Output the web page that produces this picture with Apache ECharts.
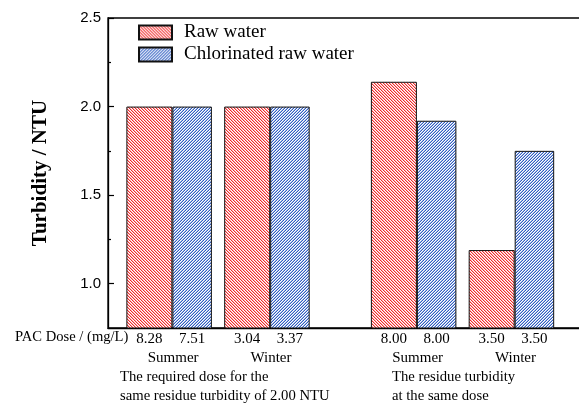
<!DOCTYPE html>
<html>
<head>
<meta charset="utf-8">
<script src="https://cdn.jsdelivr.net/npm/echarts@6/dist/echarts.min.js"></script>
<style>
html,body{margin:0;padding:0;background:#fff;}
#chart{width:579px;height:403px;}
</style>
</head>
<body>
<div id="chart"></div>
<script>
// ---- data ----
var seasons = ['Summer', 'Winter', 'Summer', 'Winter'];
var rawWater = [2.00, 2.00, 2.14, 1.19];
var chlorinatedWater = [2.00, 2.00, 1.92, 1.75];
var rawDose = ['8.28', '3.04', '8.00', '3.50'];
var chlorinatedDose = ['7.51', '3.37', '8.00', '3.50'];
var yTickLabels = [1.0, 1.5, 2.0, 2.5];
var yMinorTicks = [1.25, 1.75, 2.25];
var groupNotes = [
  ['The required dose for the', 'same residue turbidity of 2.00 NTU'],
  ['The residue turbidity', 'at the same dose']
];
var doseTitle = 'PAC Dose / (mg/L)';
var seriesNames = ['Raw water', 'Chlorinated raw water'];
var yName = 'Turbidity / NTU';

// ---- layout helpers (slot positions on the category band) ----
var slotCount = 20;
var groupSlots = [2, 6, 12, 16];
var slotLabels = [], rawSlots = [], chlSlots = [], rawDoseSlots = [], chlDoseSlots = [];
for (var i = 0; i < slotCount; i++) {
  slotLabels.push(''); rawSlots.push(null); chlSlots.push(null);
  rawDoseSlots.push(''); chlDoseSlots.push('');
}
groupSlots.forEach(function (s, k) {
  slotLabels[s] = seasons[k];
  rawSlots[s] = rawWater[k];
  chlSlots[s] = chlorinatedWater[k];
  rawDoseSlots[s] = rawDose[k];
  chlDoseSlots[s] = chlorinatedDose[k];
});

function makePattern(main, light, down) {
  var c = document.createElement('canvas');
  c.width = 3; c.height = 3;
  var ctx = c.getContext('2d');
  ctx.fillStyle = '#ffffff';
  ctx.fillRect(0, 0, 3, 3);
  for (var r = 0; r < 3; r++) {
    var x = down ? r : 2 - r;
    ctx.fillStyle = main;
    ctx.fillRect(x, r, 1, 1);
    ctx.fillStyle = light;
    ctx.fillRect(down ? (x + 1) % 3 : (x + 2) % 3, r, 1, 1);
  }
  return { image: c, repeat: 'repeat' };
}
var redFill = makePattern('#f22a2a', '#f9b0b0', true);
var blueFill = makePattern('#2f5cc2', '#a8bce6', false);

var serif = "'Liberation Serif', 'Times New Roman', serif";
var sans = "'Liberation Sans', Arial, sans-serif";

var chart = echarts.init(document.getElementById('chart'), null, { renderer: 'canvas' });
chart.setOption({
  animation: false,
  backgroundColor: '#ffffff',
  textStyle: { fontFamily: serif, color: '#000' },
  grid: {
    left: 108, width: 489, top: 18, height: 310,
    outerBoundsMode: 'none',
    containLabel: false,
    show: true, borderColor: '#000', borderWidth: 1.3, backgroundColor: 'transparent'
  },
  legend: {
    orient: 'vertical',
    left: 138, top: 23, padding: 0,
    itemWidth: 33, itemHeight: 14, itemGap: 3,
    icon: 'rect',
    formatter: '{t|{name}}',
    textStyle: {
      fontFamily: serif, fontSize: 19, color: '#000',
      rich: { t: { fontFamily: serif, fontSize: 19, color: '#000', padding: [0, 0, 0, 7] } }
    },
    data: seriesNames
  },
  xAxis: {
    type: 'category',
    data: slotLabels,
    boundaryGap: true,
    axisLine: { show: true, lineStyle: { color: '#000', width: 1.3 } },
    axisTick: { show: false },
    axisLabel: { interval: 0, margin: 23, fontFamily: serif, fontSize: 15, color: '#000', padding: [0, 0, 0, 8] },
    splitLine: { show: false }
  },
  yAxis: [{
    type: 'value',
    min: 0.75, max: 2.5, interval: 0.25,
    name: yName,
    nameLocation: 'middle',
    nameGap: 57,
    nameTextStyle: { fontFamily: serif, fontSize: 21, fontWeight: 'bold', color: '#000' },
    axisLine: { show: true, lineStyle: { color: '#000', width: 1.3 } },
    axisTick: { show: true, inside: true, length: 6, customValues: yTickLabels, lineStyle: { color: '#000', width: 1.2 } },
    axisLabel: {
      customValues: yTickLabels,
      margin: 7, fontFamily: sans, fontSize: 15, color: '#000',
      formatter: function (v) { return v.toFixed(1); }
    },
    splitLine: { show: false }
  }, {
    type: 'value',
    position: 'left',
    min: 0.75, max: 2.5, interval: 0.25,
    axisLine: { show: false },
    axisTick: { show: true, inside: true, length: 3, customValues: yMinorTicks, lineStyle: { color: '#000', width: 1.2 } },
    axisLabel: { show: false },
    splitLine: { show: false }
  }],
  series: [{
    name: seriesNames[0],
    type: 'bar',
    data: rawSlots,
    barWidth: 46,
    barGap: '0%',
    itemStyle: { color: redFill, borderColor: '#111', borderWidth: 1 },
    label: {
      show: true, position: 'bottom', distance: 3,
      fontFamily: serif, fontSize: 15, color: '#000',
      formatter: function (p) { return rawDoseSlots[p.dataIndex]; }
    }
  }, {
    name: seriesNames[1],
    type: 'bar',
    data: chlSlots,
    barWidth: 39.5,
    barGap: '0%',
    itemStyle: { color: blueFill, borderColor: '#111', borderWidth: 1 },
    label: {
      show: true, position: 'bottom', distance: 3,
      fontFamily: serif, fontSize: 15, color: '#000',
      formatter: function (p) { return chlDoseSlots[p.dataIndex]; }
    }
  }],
  graphic: [{
    type: 'text', left: 15, top: 330,
    style: { text: doseTitle, fontFamily: serif, fontSize: 14.6, fill: '#000' }
  }, {
    type: 'text', left: 120, top: 368,
    style: { text: groupNotes[0].join('\n'), fontFamily: serif, fontSize: 14.7, lineHeight: 18.5, fill: '#000' }
  }, {
    type: 'text', left: 392, top: 368,
    style: { text: groupNotes[1].join('\n'), fontFamily: serif, fontSize: 14.7, lineHeight: 18.5, fill: '#000' }
  }]
});
</script>
</body>
</html>
